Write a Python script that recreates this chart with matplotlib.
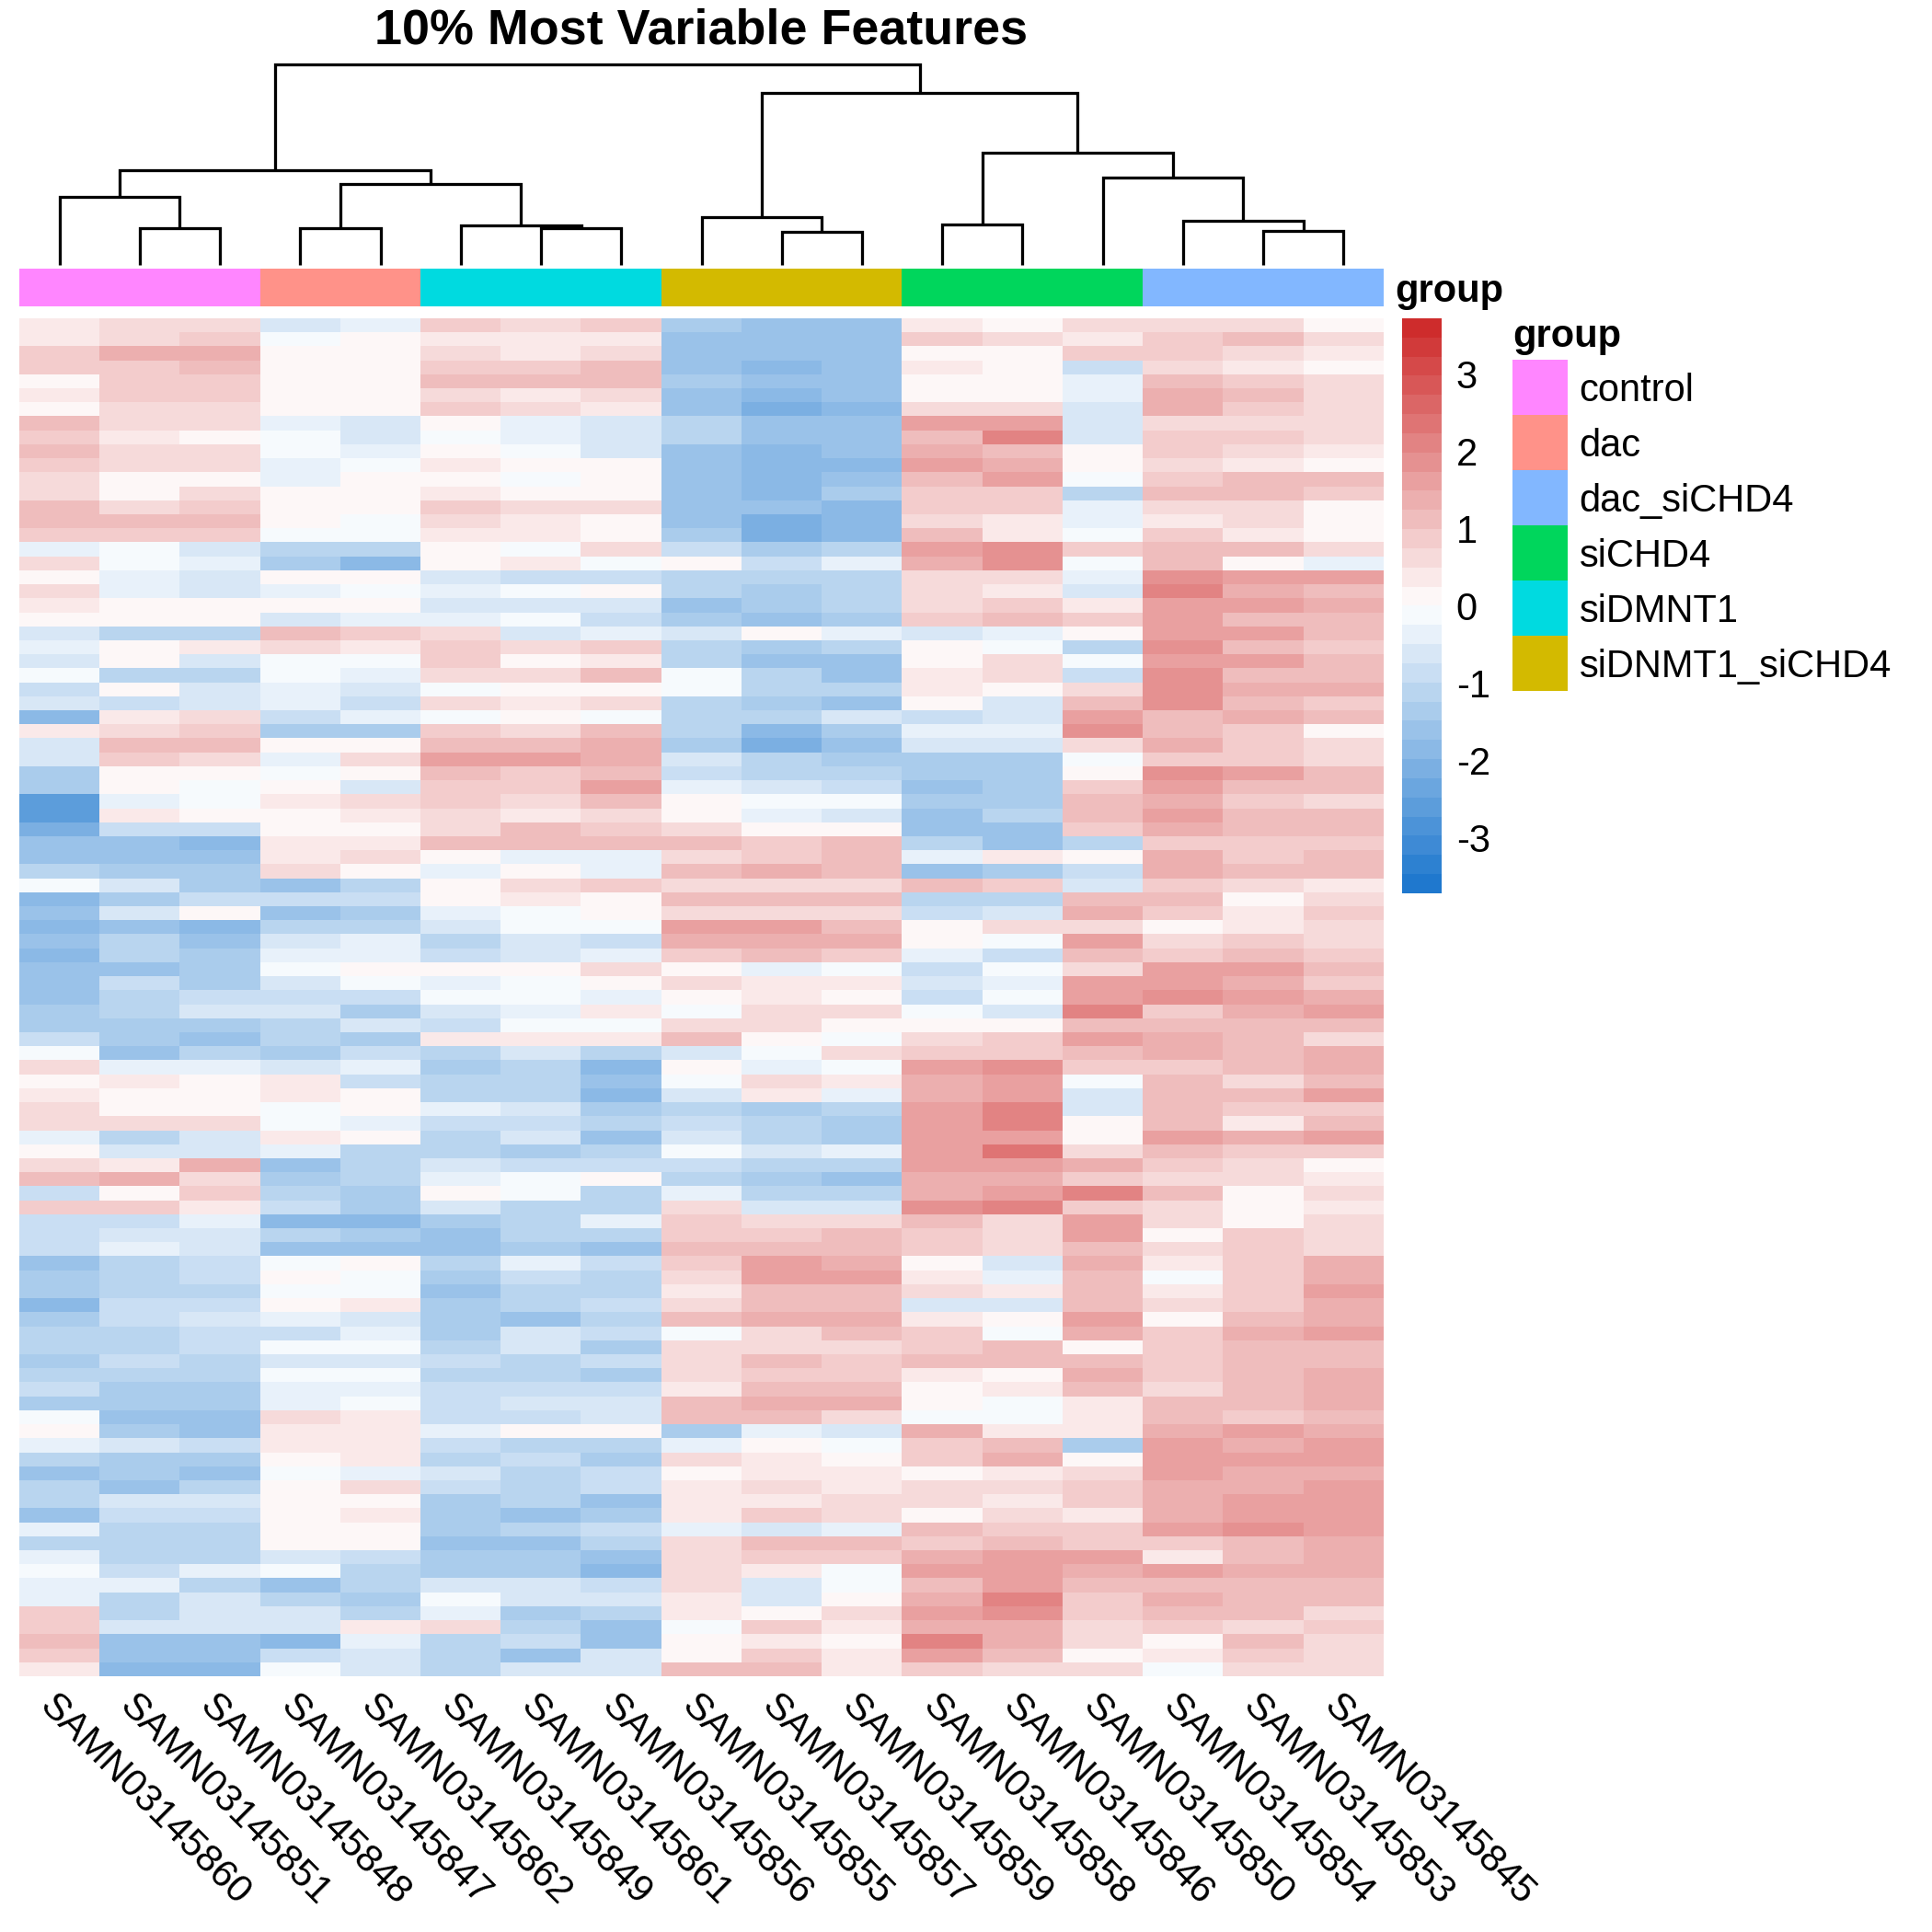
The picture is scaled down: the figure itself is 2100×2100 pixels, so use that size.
import matplotlib
matplotlib.use("Agg")
import matplotlib.pyplot as plt
import numpy as np
from matplotlib.colors import LinearSegmentedColormap, ListedColormap, BoundaryNorm

plt.rcParams['font.family'] = ['Liberation Sans', 'DejaVu Sans']

samples = ["SAMN03145860","SAMN03145851","SAMN03145848","SAMN03145847","SAMN03145862","SAMN03145849",
           "SAMN03145861","SAMN03145856","SAMN03145855","SAMN03145857","SAMN03145859","SAMN03145858",
           "SAMN03145846","SAMN03145850","SAMN03145854","SAMN03145853","SAMN03145845"]
sample_group = [0,0,0,1,1,4,4,4,5,5,5,3,3,3,2,2,2]
groups = ["control","dac","dac_siCHD4","siCHD4","siDMNT1","siDNMT1_siCHD4"]
group_colors = ["#FF86FF","#FF9289","#82B7FF","#00D65C","#00DAE0","#D3BA00"]

# dendrogram merges: child kind ("L" leaf, "M" earlier merge), child index, twice, then height
merges = [
    ("L",1,"L",2,30),      # 0
    ("L",0,"M",0,55),      # 1
    ("L",3,"L",4,30),      # 2
    ("L",6,"L",7,30),      # 3
    ("L",5,"M",3,32),      # 4
    ("M",2,"M",4,66),      # 5
    ("M",1,"M",5,77),      # 6
    ("L",9,"L",10,27),     # 7
    ("L",8,"M",7,39),      # 8
    ("L",11,"L",12,33),    # 9
    ("L",15,"L",16,28),    # 10
    ("L",14,"M",10,36),    # 11
    ("L",13,"M",11,71),    # 12
    ("M",9,"M",12,91),     # 13
    ("M",8,"M",13,140),    # 14
    ("M",6,"M",14,163),    # 15
]
dendro_max = 163

expr_a = [
[.4,.5,.7,-.6,-.4,.9,.6,.9,-1.3,-1.6,-1.5,.3,.2,.6,.7,.6,.1],
[.3,.5,.9,-.1,.1,.3,.3,.3,-1.5,-1.5,-1.6,.8,.7,.4,.9,1.1,.6],
[.9,1.3,1.4,0,.1,.6,.3,.5,-1.6,-1.5,-1.7,0,.2,.9,.8,.5,.3],
[.9,.9,1.0,.1,.2,.8,.9,1.0,-1.7,-1.8,-1.7,.3,.1,-.8,.7,.3,.2],
[.2,.8,.8,.2,.1,1.0,1.1,1.1,-1.4,-1.5,-1.7,0,0,-.3,1.0,.9,.5],
[.4,.8,.8,.2,.1,.6,.3,.5,-1.6,-1.8,-1.7,.2,0,-.3,1.4,1.0,.7],
[.2,.6,.5,0,.2,.9,.5,.3,-1.5,-2.2,-1.8,.5,.5,-.7,1.3,.9,.5],
[1.1,.6,.6,-.3,-.6,.2,-.4,-.5,-1.0,-1.7,-1.6,1.5,1.7,-.5,.6,.7,.5],
[.9,.3,.2,-.2,-.7,-.1,-.4,-.5,-1.1,-1.6,-1.6,1.2,2.0,-.5,.9,.9,.6],
[1.0,.7,.7,-.2,-.4,.2,-.2,-.5,-1.5,-1.8,-1.7,1.3,1.2,.2,.8,.7,.3],
[.8,.5,.6,-.3,-.2,.3,0,0,-1.5,-1.8,-1.9,1.5,1.4,.1,.7,.4,.1],
[.5,0,.2,-.4,0,0,-.2,0,-1.6,-1.9,-1.5,1.0,1.5,-.2,.9,1.0,1.0],
[.7,.1,.5,.1,.2,.3,.1,.2,-1.6,-1.8,-1.4,.8,.8,-1.2,1.1,1.2,.8],
[1.0,.6,.8,0,.1,.8,.5,.5,-1.7,-1.7,-1.8,.9,.9,-.3,.7,.7,.2],
[1.1,1.1,1.2,.1,-.2,.5,.4,.2,-1.6,-2.0,-1.9,.7,.3,-.3,.3,.6,.1],
[.9,.8,.9,-.2,-.2,.3,.4,.2,-1.4,-2.0,-1.9,1.1,.4,-.1,.9,.4,.2],
[-.3,-.1,-.6,-1.0,-1.0,.2,-.1,.5,-.9,-1.3,-1.2,1.7,1.9,.8,1.1,1.1,.7],
[.7,-.2,-.3,-1.3,-1.8,.2,.3,-.1,.2,-.8,-.4,1.4,1.9,-.2,1.0,.1,-.4],
[.1,-.3,-.7,.2,0,-.6,-.8,-.8,-1.0,-1.2,-1.1,.5,.6,-.4,1.8,1.6,1.5],
[.5,-.4,-.5,-.4,-.2,-.3,-.1,0,-1.2,-1.3,-1.1,.5,.3,-.6,2.0,1.4,1.1],
[.3,.2,.1,0,0,-.7,-.7,-.5,-1.5,-1.4,-1.2,.6,.8,.3,1.6,1.6,1.3],
[.2,.2,0,-.7,-.4,-.3,-.2,-.8,-1.3,-1.5,-1.3,.9,1.0,.8,1.6,1.0,1.0],
[-.7,-1.2,-1.1,1.2,.8,.5,-.7,-.3,-.5,.2,-.4,-.6,-.4,0,1.5,1.6,1.2],
[-.3,.2,.3,.7,.3,.9,.6,.8,-1.0,-1.3,-1.1,.1,-.2,-1.2,1.8,1.2,.8],
[-.5,.2,-.6,-.1,-.1,.8,.2,.4,-1.2,-1.7,-1.7,0,.5,-.1,1.7,1.5,1.1],
]
expr_b = [
[-.2,-1.2,-1.2,-.2,-.4,.7,.6,1.2,-.2,-1.0,-1.7,.4,.7,-.8,1.9,1.2,1.1],
[-.9,0,-.7,-.4,-.6,-.1,.2,.2,-.1,-1.2,-1.1,.3,.2,.7,1.9,1.3,1.4],
[-.5,-.8,-.5,-.3,-.9,.6,.4,.5,-1.0,-1.3,-1.5,.1,-.5,1.1,1.9,1.0,.8],
[-1.8,.3,.6,-.8,-.4,-.1,.2,-.1,-1.1,-1.2,-.5,-.9,-.7,1.7,1.2,1.3,1.1],
[.3,.7,.9,-1.3,-1.4,.9,.5,1.2,-1.0,-1.8,-1.3,-.3,-.4,1.9,1.1,.9,.2],
[-.7,1.1,1.0,.1,.1,1.1,1.1,1.3,-1.3,-2.0,-1.7,-.6,-.7,.6,1.3,.9,.6],
[-.5,.8,.7,-.4,.7,1.5,1.5,1.4,-.7,-1.2,-1.3,-1.4,-1.3,-.1,.9,.8,.5],
[-1.4,.2,.1,-.1,0,1.0,.8,1.0,-.8,-1.1,-1.0,-1.4,-1.3,.2,1.9,1.6,1.2],
[-1.3,.1,-.2,.2,-.7,.9,.8,1.6,-.4,-.7,-.9,-1.6,-1.4,.9,1.7,1.1,1.0],
[-2.5,-.4,-.2,.3,.7,.9,.6,1.1,.1,-.2,-.1,-1.4,-1.3,1.0,1.4,.9,.7],
[-2.6,.4,.2,.2,.3,.7,.3,.6,0,-.3,-.5,-1.6,-1.0,1.0,1.5,1.1,1.0],
[-2.2,-.8,-.8,.1,.1,.5,1.0,.8,.7,.2,.1,-1.5,-1.7,.8,1.4,1.0,1.0],
[-1.7,-1.6,-1.8,.4,.4,1.2,1.2,1.0,1.0,.9,1.0,-1.1,-1.5,-1.0,.9,.9,.9],
[-1.5,-1.6,-1.7,.4,.7,.1,-.3,-.3,.6,.8,1.0,-.4,.4,.2,1.4,.9,1.0],
[-1.0,-1.3,-1.3,.6,.2,-.3,.1,-.3,1.1,1.3,1.1,-1.6,-1.3,-.9,1.3,1.1,1.2],
[-.2,-.5,-1.3,-1.6,-1.0,.2,.6,.8,.6,.5,.5,1.0,.9,-.7,.9,.6,.4],
[-1.9,-1.4,-.9,-.8,-.8,.2,.4,.1,1.2,1.2,1.1,-1.2,-1.0,1.0,1.1,.2,.5],
[-1.5,-.7,.2,-1.6,-1.3,-.4,-.2,.2,.6,.7,.6,-.8,-.6,1.3,.8,.4,.9],
[-1.8,-1.5,-1.8,-1.2,-1.1,-.5,-.1,-.2,1.5,1.5,1.2,0,.5,.6,.1,.3,.5],
[-1.5,-1.1,-1.5,-.7,-.4,-1.0,-.6,-.9,1.3,1.3,1.3,.2,-.1,1.5,.6,.9,.5],
[-1.8,-1.0,-1.3,-.3,-.3,-.9,-.6,-.3,.9,1.2,.9,-.3,-.8,1.2,.9,1.2,.8],
[-1.6,-1.7,-1.3,-.2,.1,0,.1,.5,.2,-.3,-.2,-.9,-.2,.6,1.7,1.5,1.2],
[-1.6,-.9,-1.3,-.5,-.2,-.3,-.2,.2,.5,.4,.4,-.6,-.3,1.6,1.5,1.3,.9],
[-1.5,-1.0,-.9,-.9,-.9,-.1,-.2,-.4,0,.4,.2,-.8,-.1,1.7,1.8,1.5,1.4],
]
expr_c = [
[-1.3,-1.0,-.7,-.6,-1.3,-.5,-.3,.3,-.2,.5,.6,-.1,-.7,2.1,.8,1.3,1.7],
[-1.4,-1.3,-1.4,-1.1,-.5,-.8,-.2,-.1,.5,.6,.2,.2,0,1.2,1.2,1.2,1.1],
[-.9,-1.4,-1.7,-1.2,-1.3,.3,.3,.3,1.0,.1,-.1,.5,.9,1.5,1.4,1.1,.5],
[-.1,-1.5,-1.2,-1.3,-.9,-1.1,-.5,-1.0,-.7,-.2,.5,.9,.9,1.0,1.3,1.1,1.3],
[.6,-.3,-.4,-.5,-.4,-1.4,-1.0,-1.8,.1,-.4,-.2,1.6,1.9,.8,.9,1.2,1.3],
[.2,.3,.1,.3,-.8,-1.1,-1.2,-1.6,-.1,.5,.3,1.3,1.7,-.1,1.0,.6,1.0],
[.4,.2,.2,.4,.1,-1.2,-1.1,-1.8,-.6,.3,-.4,1.4,1.7,-.5,1.1,1.2,1.6],
[.5,.1,.1,-.1,.2,-.4,-.6,-1.3,-1.2,-1.3,-1.2,1.7,2.0,-.6,1.2,.8,.8],
[.7,.5,.7,-.2,-.4,-.8,-.9,-1.2,-.9,-1.2,-1.3,1.7,2.2,.1,1.1,.4,1.2],
[-.3,-1.0,-.5,.4,0,-1.1,-.7,-1.5,-.7,-1.0,-1.3,1.6,1.6,.2,1.7,1.4,1.6],
[.1,-.6,-.7,-.4,-1.0,-1.0,-1.3,-1.2,-.1,-.7,-.4,1.7,2.3,.6,1.1,.9,.8],
[.5,.4,1.3,-1.6,-1.2,-.6,-.9,-.8,-.9,-1.2,-1.0,1.6,1.7,1.3,.8,.6,.1],
[1.0,1.3,.5,-1.4,-1.2,-.4,-.2,.2,-1.0,-1.4,-1.6,1.4,1.4,.9,.6,.7,.4],
[-.8,.2,.8,-1.2,-1.4,.1,-.1,-1.1,-.3,-1.0,-1.0,1.3,1.5,2.0,1.0,.2,.5],
[.8,.9,.4,-.8,-1.4,-.6,-1.2,-1.0,.7,-.6,-.7,1.9,2.2,.9,.6,.2,.4],
[-.9,-.8,-.3,-1.9,-1.8,-1.3,-1.0,-.4,.9,.6,.7,1.2,.5,1.6,.5,.1,.7],
[-.9,-.7,-.5,-1.1,-1.3,-1.5,-1.1,-1.0,.9,.8,1.0,.8,.5,1.7,.2,.9,.5],
[-.8,-.3,-.7,-1.6,-1.7,-1.6,-1.3,-1.7,1.0,1.1,1.0,.8,.7,1.1,.6,.8,.7],
[-1.5,-1.1,-.8,-.1,.1,-1.2,-.3,-.8,.8,1.5,1.3,.1,-.6,1.3,.4,.9,1.3],
[-1.3,-1.0,-.9,0,-.2,-1.4,-.8,-1.0,.6,1.6,1.5,.4,-.3,1.0,-.1,.9,1.4],
[-1.3,-1.2,-1.2,-.2,-.2,-1.5,-1.0,-1.2,.3,1.2,1.2,.5,.3,1.0,.4,.9,1.5],
[-1.9,-.9,-.9,.2,.4,-1.3,-1.2,-.9,.5,1.2,1.1,-.5,-.7,1.2,.7,.9,1.3],
[-1.3,-.8,-.7,-.4,-.5,-1.4,-1.6,-1.2,1.0,1.4,1.3,.3,0,1.5,0,1.0,1.4],
[-1.2,-1.1,-.9,-.8,-.4,-1.3,-.7,-.8,-.1,.7,1.0,.8,-.2,1.3,.9,1.4,1.6],
]
expr_d = [
[-1.2,-1.0,-.9,-.2,-.1,-1.0,-.7,-1.3,.7,.6,.5,.9,1.0,0,.9,1.2,1.1],
[-1.3,-.8,-1.0,-.6,-.7,-.9,-1.2,-.9,.7,1.0,.8,1.2,1.2,1.0,.8,1.2,1.0],
[-1.2,-1.2,-1.0,-.2,-.2,-1.2,-1.2,-1.4,.5,.9,.8,.3,.2,1.3,.8,1.1,1.3],
[-.9,-1.4,-1.4,-.3,-.3,-.9,-.9,-.8,.4,1.0,1.1,.2,.3,1.0,.6,1.1,1.3],
[-1.4,-1.3,-1.3,-.3,-.2,-.8,-.6,-.6,1.2,1.3,1.3,0,-.1,.4,1.2,1.0,1.4],
[-.1,-1.7,-1.6,.5,.3,-.9,-.8,-.5,1.0,1.0,.6,-.2,-.2,.4,1.0,.9,1.0],
[.2,-1.4,-1.7,.3,.3,-.3,.2,.1,-1.3,-.3,-.6,1.3,.4,.4,1.3,1.6,1.4],
[-.3,-.7,-.9,.4,.3,-.9,-1.0,-1.2,-.3,.1,-.1,.8,1.2,-1.3,1.5,1.4,1.7],
[-1.0,-1.3,-1.4,.1,.3,-1.0,-.9,-1.3,.5,.4,.1,.8,1.3,.1,1.6,1.5,1.6],
[-1.5,-1.4,-1.5,-.2,-.3,-.5,-1.0,-.8,.2,.3,.3,.2,.4,.5,1.6,1.4,1.4],
[-1.0,-1.5,-1.2,.2,.5,-.9,-1.0,-.9,.4,.5,.3,.5,.6,.9,1.3,1.4,1.5],
[-1.2,-.7,-.6,0,.2,-1.3,-1.1,-1.7,.4,.4,.5,.5,.3,.8,1.4,1.5,1.6],
[-1.6,-.8,-.9,.1,.3,-1.3,-1.6,-1.3,.4,.9,.7,.1,.5,.3,1.3,1.6,1.6],
[-.3,-1.0,-1.1,0,.1,-1.3,-1.0,-.9,-.3,-.5,-.4,1.0,.8,.8,1.7,1.8,1.5],
[-1.2,-1.1,-1.0,.2,.1,-1.6,-1.6,-1.2,.6,1.0,1.0,.9,1.2,.8,.8,1.2,1.4],
[-.4,-1.1,-1.0,-.7,-.8,-1.4,-1.3,-1.6,.7,.8,.9,1.3,1.5,1.7,.3,1.2,1.4],
[-.1,-.8,-.4,-.2,-1.0,-1.4,-1.4,-1.9,.6,.3,-.1,1.5,1.5,1.3,1.5,1.3,1.4],
[-.4,-.3,-1.0,-1.5,-1.1,-.7,-.5,-.8,.5,-.6,-.2,1.0,1.5,1.2,1.0,1.2,1.0],
[-.4,-1.0,-.7,-1.2,-1.3,-.1,-.6,-.6,.3,-.7,.1,1.4,2.1,.8,1.3,1.2,1.0],
[.9,-1.0,-.6,-.6,-1.0,-.4,-1.4,-1.1,.4,.2,.6,1.6,1.9,.8,1.1,1.2,.7],
[.8,-.6,-.5,-.5,.4,.6,-1.1,-1.5,-.1,.9,.3,1.3,1.3,.5,.8,.7,.8],
[1.0,-1.5,-1.6,-1.8,-.4,-1.0,-.9,-1.5,.1,.3,.2,2.0,1.4,.5,0,1.0,.7],
[.8,-1.7,-1.6,-.9,-.7,-1.1,-1.5,-.7,.2,.8,.4,1.7,1.1,.2,.3,.9,.6],
[.4,-1.9,-1.8,-.2,-.5,-1.2,-.5,-.7,1.0,1.1,.3,.8,.6,.5,-.2,.5,.6],
]

scale_limit = 3.72
scale_ticks = [3,2,1,0,-1,-2,-3]
n_bands = 30

W = H = 2100
fig = plt.figure(figsize=(7,7), dpi=300, facecolor='white')

def box(x0, y0, x1, y1):
    return fig.add_axes([x0/W, 1-y1/H, (x1-x0)/W, (y1-y0)/H])

base = LinearSegmentedColormap.from_list("hm", ["#1874CD", "#FFFFFF", "#CD2626"])
cmap = ListedColormap([base((i+.5)/n_bands) for i in range(n_bands)])
edges = np.linspace(-scale_limit, scale_limit, n_bands+1)
norm = BoundaryNorm(edges, n_bands)

HX0, HX1, HY0, HY1 = 21, 1504, 346, 1822

# heatmap
ax = box(HX0, HY0, HX1, HY1)
mat = np.array(expr_a + expr_b + expr_c + expr_d)
ax.imshow(mat, aspect='auto', cmap=cmap, norm=norm, interpolation='nearest')
ax.axis('off')

# annotation bar
ax = box(HX0, 292, HX1, 333)
ax.imshow(np.array([sample_group]), aspect='auto', cmap=ListedColormap(group_colors),
          vmin=-.5, vmax=5.5, interpolation='nearest')
ax.axis('off')

# dendrogram
ax = box(HX0, 66, HX1, 288)
ax.set_xlim(-.5, len(samples)-.5)
ax.set_ylim(0, dendro_max*222/218)
nodes = []
for a, i, b, j, h in merges:
    xa, ya = (i, 0) if a == "L" else nodes[i]
    xb, yb = (j, 0) if b == "L" else nodes[j]
    ax.plot([xa, xa, xb, xb], [ya, h, h, yb], color='black', lw=.78,
            solid_joinstyle='miter', solid_capstyle='butt', clip_on=False)
    nodes.append(((xa+xb)/2, h))
ax.axis('off')

# title
fig.text(762/W, 1-33/H, "10% Most Variable Features", ha='center', va='center',
         fontsize=12.95, fontweight='bold')

# sample labels
ax = box(HX0, HY0, HX1, HY1)
ax.set_xlim(-.5, len(samples)-.5)
ax.set_ylim(1, 0)
ax.axis('off')
for i, s in enumerate(samples):
    ax.annotate(s, xy=(i, 1), xytext=(-.4, -3), textcoords='offset points', rotation=-45,
                rotation_mode='anchor', ha='left', va='top', fontsize=10, annotation_clip=False)

# colour scale
ax = box(1524, 346, 1566, 971)
ax.imshow(np.linspace(scale_limit, -scale_limit, n_bands)[:, None], aspect='auto', cmap=cmap, norm=norm,
          extent=[0, 1, -scale_limit, scale_limit], interpolation='nearest')
ax.set_xticks([])
ax.set_yticks(scale_ticks)
ax.yaxis.tick_right()
ax.set_yticklabels([str(t) for t in scale_ticks], fontsize=10)
ax.tick_params(axis='y', length=0, pad=4)
for sp in ax.spines.values():
    sp.set_visible(False)
fig.text(1516/W, 1-317/H, "group", ha='left', va='center', fontsize=10, fontweight='bold')

# group legend
ax = box(1644, 391, 1704, 751)
ax.imshow(np.arange(len(groups))[:, None], aspect='auto', cmap=ListedColormap(group_colors),
          vmin=-.5, vmax=5.5, interpolation='nearest')
ax.axis('off')
for i, g in enumerate(groups):
    ax.annotate(g, xy=(1, (len(groups)-.5-i)/len(groups)), xycoords='axes fraction', xytext=(3, -1),
                textcoords='offset points', ha='left', va='center', fontsize=10)
fig.text(1644/W, 1-366/H, "group", ha='left', va='center', fontsize=10, fontweight='bold')

fig.savefig("out.png", dpi=300, facecolor='white')
